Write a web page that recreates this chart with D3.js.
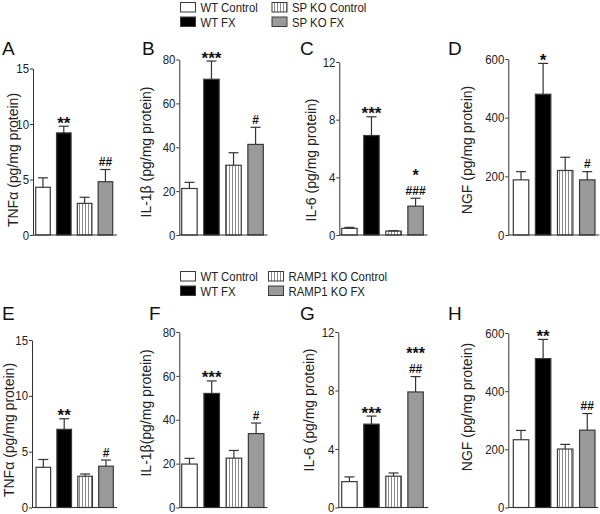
<!DOCTYPE html>
<html>
<head>
<meta charset="utf-8">
<script src="https://cdn.jsdelivr.net/npm/d3@7/dist/d3.min.js"></script>
<style>
  html, body { margin: 0; padding: 0; background: #fff; }
  svg { display: block; font-family: "Liberation Sans", Arial, sans-serif; }
</style>
</head>
<body>
<svg id="chart" width="600" height="514"></svg>
<script>
// ---------------- DATA ----------------
const groupsTop = ["WT Control", "WT FX", "SP KO Control", "SP KO FX"];
const groupsBottom = ["WT Control", "WT FX", "RAMP1 KO Control", "RAMP1 KO FX"];
const panelLetters = ["A", "B", "C", "D", "E", "F", "G", "H"];
const yLabels = [
  "TNF\u03B1 (pg/mg protein)", "IL-1\u03B2 (pg/mg protein)", "IL-6 (pg/mg protein)", "NGF (pg/mg protein)",
  "TNF\u03B1 (pg/mg protein)", "IL-1\u03B2(pg/mg protein)", "IL-6 (pg/mg protein)", "NGF (pg/mg protein)"
];
// mean values per group
const valuesA = [4.3, 9.2, 2.85, 4.8];
const valuesB = [21.2, 71, 31.8, 41.3];
const valuesC = [0.46, 6.9, 0.27, 2.0];
const valuesD = [188, 480, 220, 188];
const valuesE = [3.6, 7.0, 2.8, 3.7];
const valuesF = [19.8, 52, 22.5, 33.7];
const valuesG = [1.77, 5.7, 2.14, 7.9];
const valuesH = [233, 512, 201, 266];
// SEM (upper error bar length)
const errorsA = [0.85, 0.6, 0.55, 1.1];
const errorsB = [2.8, 8.3, 5.7, 7.8];
const errorsC = [0.07, 1.3, 0.03, 0.55];
const errorsD = [28, 105, 45, 28];
const errorsE = [0.7, 0.95, 0.2, 0.55];
const errorsF = [2.6, 5.7, 3.5, 4.8];
const errorsG = [0.32, 0.55, 0.22, 1.05];
const errorsH = [32, 66, 16, 57];
// significance marks: [asterisks, hashes]
const sigA = [["", ""], ["**", ""], ["", ""], ["", "##"]];
const sigB = [["", ""], ["***", ""], ["", ""], ["", "#"]];
const sigC = [["", ""], ["***", ""], ["", ""], ["*", "###"]];
const sigD = [["", ""], ["*", ""], ["", ""], ["", "#"]];
const sigE = [["", ""], ["**", ""], ["", ""], ["", "#"]];
const sigF = [["", ""], ["***", ""], ["", ""], ["", "#"]];
const sigG = [["", ""], ["***", ""], ["", ""], ["***", "##"]];
const sigH = [["", ""], ["**", ""], ["", ""], ["", "##"]];
// y-axis ticks
const ticksTNF = [0, 5, 10, 15];
const ticksIL1 = [0, 20, 40, 60, 80];
const ticksIL6 = [0, 4, 8, 12];
const ticksNGF = [0, 200, 400, 600];

// ---------------- LAYOUT ----------------
const panels = [
  { v: valuesA, e: errorsA, s: sigA, t: ticksTNF, g: groupsTop,    ax: 33,    w: 84, b0: 2.7, b1: 4.3, top: 68.5, bot: 235,   lx: 13,  ly: 160, px: 2,   py: 55 },
  { v: valuesB, e: errorsB, s: sigB, t: ticksIL1, g: groupsTop,    ax: 179.3, w: 88, b0: 2.4, b1: 4,   top: 59.5, bot: 235,   lx: 146, ly: 152, px: 142, py: 55 },
  { v: valuesC, e: errorsC, s: sigC, t: ticksIL6, g: groupsTop,    ax: 339.3, w: 88, b0: 2.4, b1: 4,   top: 62,   bot: 235,   lx: 311, ly: 160, px: 300, py: 55 },
  { v: valuesD, e: errorsD, s: sigD, t: ticksNGF, g: groupsTop,    ax: 508.3, w: 91, b0: 5,   b1: 4.3, top: 59,   bot: 235,   lx: 467, ly: 150, px: 448, py: 55 },
  { v: valuesE, e: errorsE, s: sigE, t: ticksTNF, g: groupsBottom, ax: 32,    w: 85, b0: 4,   b1: 3.7, top: 340,  bot: 507.5, lx: 9,   ly: 430, px: 2,   py: 320 },
  { v: valuesF, e: errorsF, s: sigF, t: ticksIL1, g: groupsBottom, ax: 179.3, w: 88, b0: 2.4, b1: 3.4, top: 332,  bot: 507.5, lx: 146, ly: 413, px: 149, py: 320 },
  { v: valuesG, e: errorsG, s: sigG, t: ticksIL6, g: groupsBottom, ax: 338.3, w: 90, b0: 3.4, b1: 5,   top: 332,  bot: 507.5, lx: 309, ly: 410, px: 300, py: 320 },
  { v: valuesH, e: errorsH, s: sigH, t: ticksNGF, g: groupsBottom, ax: 508.3, w: 90, b0: 5,   b1: 3.3, top: 333,  bot: 507.5, lx: 467, ly: 407, px: 448, py: 320 }
];

const svg = d3.select("#chart");
const defs = svg.append("defs");
const pat = defs.append("pattern")
  .attr("id", "vhatch").attr("patternUnits", "userSpaceOnUse")
  .attr("width", 3).attr("height", 10);
pat.append("rect").attr("width", 3).attr("height", 10).attr("fill", "#fff");
pat.append("line").attr("x1", 1.5).attr("x2", 1.5).attr("y1", 0).attr("y2", 10)
  .attr("stroke", "#8a8a8a").attr("stroke-width", 1);

const fills = ["#ffffff", "#000000", "url(#vhatch)", "#9a9a9a"];
const axisColor = "#333";

panels.forEach((p, i) => {
  const g = svg.append("g");
  const y = d3.scaleLinear().domain([0, d3.max(p.t)]).range([p.bot, p.top]);
  const x = d3.scaleBand().domain(p.g).range([p.ax + p.b0, p.ax + p.w - p.b1])
    .paddingInner(0.3).paddingOuter(0);

  // bars
  g.selectAll("rect.bar").data(p.g).enter().append("rect")
    .attr("class", "bar")
    .attr("x", d => x(d))
    .attr("width", x.bandwidth())
    .attr("y", (d, j) => y(p.v[j]))
    .attr("height", (d, j) => y(0) - y(p.v[j]))
    .attr("fill", (d, j) => fills[j])
    .attr("stroke", "#3a3a3a").attr("stroke-width", 1.2);

  // error bars (upper only) and significance marks
  p.g.forEach((d, j) => {
    const cx = x(d) + x.bandwidth() / 2;
    const yt = y(p.v[j] + p.e[j]);
    g.append("line").attr("x1", cx).attr("x2", cx).attr("y1", y(p.v[j])).attr("y2", yt)
      .attr("stroke", "#333").attr("stroke-width", 1.2);
    g.append("line").attr("x1", cx - 5).attr("x2", cx + 5).attr("y1", yt).attr("y2", yt)
      .attr("stroke", "#333").attr("stroke-width", 1.2);
    const [ast, hash] = p.s[j];
    if (hash) {
      const hy = yt - 3.5;
      g.append("text").attr("x", cx).attr("y", hy).attr("text-anchor", "middle")
        .attr("fill", "#111").attr("font-weight", "bold").attr("font-size", 12).text(hash);
      if (ast) {
        g.append("text").attr("x", cx).attr("y", hy - 14).attr("text-anchor", "middle")
          .attr("fill", "#111").attr("font-weight", "bold").attr("font-size", 16).text(ast);
      }
    } else if (ast) {
      g.append("text").attr("x", cx).attr("y", yt + 2.5).attr("text-anchor", "middle")
        .attr("font-size", 17).attr("font-weight", "bold").attr("fill", "#111").text(ast);
    }
  });

  // y axis
  const yAxis = d3.axisLeft(y).tickValues(p.t).tickSize(3).tickSizeOuter(0).tickFormat(d3.format("d"));
  const ga = g.append("g").attr("transform", `translate(${p.ax},0)`).call(yAxis);
  ga.select(".domain").attr("stroke", axisColor);
  ga.selectAll(".tick line").attr("stroke", axisColor);
  ga.selectAll(".tick text").attr("fill", "#222").attr("font-size", 13)
    .attr("font-family", "'Liberation Sans', Arial, sans-serif")
    .attr("x", -4.5).attr("transform", "scale(0.88,1)");

  // x baseline
  g.append("line").attr("x1", p.ax).attr("x2", p.ax + p.w).attr("y1", y(0)).attr("y2", y(0))
    .attr("stroke", axisColor).attr("stroke-width", 1.2);

  // y label
  g.append("text").attr("transform", `translate(${p.lx},${p.ly}) rotate(-90)`)
    .attr("text-anchor", "middle").attr("dy", "0.35em")
    .attr("font-size", 14).attr("fill", "#222").text(yLabels[i]);

  // panel letter
  g.append("text").attr("x", p.px).attr("y", p.py).attr("font-size", 19).attr("fill", "#111")
    .text(panelLetters[i]);
});

// legends
function legend(groups, x0, x1, y0) {
  const lg = svg.append("g");
  groups.forEach((name, j) => {
    const c = j < 2 ? 0 : 1;
    const r = j < 2 ? j : j - 2;
    const bx = c === 0 ? x0 : x1;
    const by = y0 + r * 14.5;
    lg.append("rect").attr("x", bx).attr("y", by).attr("width", 15).attr("height", 9.5)
      .attr("fill", fills[j]).attr("stroke", "#3a3a3a").attr("stroke-width", 1);
    lg.append("text").attr("transform", `translate(${bx + 20},${by + 9.5}) scale(0.91,1)`)
      .attr("font-size", 12.5).attr("fill", "#222").text(name);
  });
}
legend(groupsTop, 180.5, 272, 2.5);
legend(groupsBottom, 180.5, 268.5, 271.5);
</script>
</body>
</html>
